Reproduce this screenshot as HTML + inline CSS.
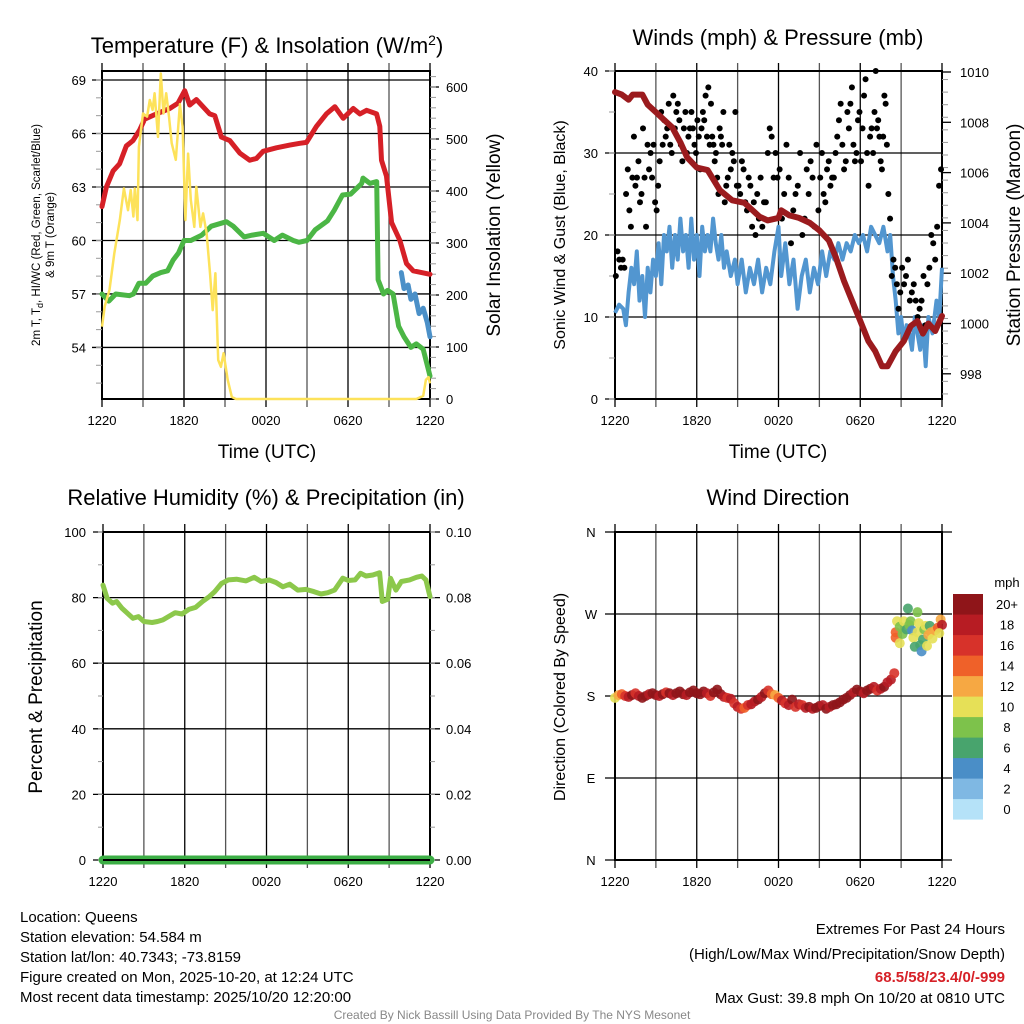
<!DOCTYPE html>
<html><head><meta charset="utf-8"><style>
html,body{margin:0;padding:0;background:#fff}
svg{display:block;font-family:"Liberation Sans",sans-serif}
</style></head><body>
<svg id="c" width="1024" height="1024" viewBox="0 0 1024 1024">
<g id="g"></g>
</svg>
<script>
// ---------- DATA ----------
const xTickLabels = ["1220","1820","0020","0620","1220"];
// Panel 1
const tempHours = [0,0.32,0.81,1.29,1.78,2.27,2.76,3.12,3.98,4.95,5.56,6.05,6.42,6.91,7.88,8.25,8.74,9.35,10.08,10.81,11.3,11.79,12.76,13.74,14.47,14.96,15.69,16.42,17.04,17.65,18.38,18.87,19.36,20.09,20.33,20.45,20.82,21.19,21.8,22.28,22.77,24];
const tempVals = [61.9,63.0,63.9,64.3,65.3,65.6,66.2,66.8,67.1,67.4,67.7,68.4,67.6,67.9,67.1,67.0,65.8,65.6,64.9,64.5,64.6,65.0,65.2,65.35,65.45,65.5,66.4,67.1,67.5,66.85,67.4,67.1,67.3,67.1,66.4,64.5,63.6,61.0,60.0,58.7,58.3,58.1];
const dewHours = [0,0.5,1,2,2.3,2.7,3.2,3.7,4.3,4.8,5.2,5.6,6.0,6.5,7.3,8.0,9.1,9.6,10.4,11.0,11.8,12.6,13.2,14.0,14.4,15.0,15.6,16.5,17.0,17.6,18.2,19.0,19.1,19.6,20.1,20.2,20.6,20.9,21.3,21.7,22.1,22.6,23.0,23.5,24];
const dewVals = [57.0,56.6,57.0,56.9,57.0,57.6,57.6,58.0,58.2,58.3,58.9,59.3,60.0,60.0,60.3,60.8,61.05,60.8,60.2,60.3,60.4,60.0,60.3,60.0,59.9,60.0,60.6,61.1,61.7,62.55,62.6,63.2,63.5,63.2,63.3,57.8,57.0,57.2,57.0,55.2,54.6,54.0,54.2,53.9,52.4];
const wcHours = [21.9,22.1,22.4,22.6,22.9,23.2,23.5,23.8,24];
const wcVals = [58.2,57.3,57.5,56.7,57.0,55.9,56.2,55.4,54.6];
const solarHours = [0,0.2,0.55,0.9,1.3,1.6,1.9,2.1,2.3,2.4,2.6,2.7,3.0,3.3,3.5,3.7,3.85,4.1,4.3,4.5,4.7,4.9,5.1,5.4,5.7,5.9,6.1,6.3,6.5,6.75,6.9,7.2,7.4,7.65,7.9,8.1,8.3,8.5,8.7,8.9,9.2,9.5,9.8,23.0,23.5,23.7,23.9,24];
const solarVals = [139,178,210,280,344,405,363,402,351,405,344,485,549,543,575,556,588,504,626,549,588,543,492,460,567,524,344,472,383,331,408,331,357,319,242,171,242,75,62,88,37,4,0,0,6,37,42,30];
// Panel 2
const presHours = [0,0.5,1.0,1.3,2.0,2.4,3.0,3.6,4.2,4.8,5.3,6.0,6.8,7.7,8.6,9.5,10.6,11.2,12.0,12.2,12.8,13.5,14.3,15.0,15.7,16.2,16.8,17.4,18.0,18.6,19.1,19.6,20.0,20.6,21.2,21.7,22.2,22.6,23.0,23.5,24];
const presVals = [1009.2,1009.1,1008.9,1009.1,1009.1,1008.7,1008.4,1008.1,1007.8,1007.2,1006.6,1006.2,1006.1,1005.3,1004.9,1004.8,1004.25,1004.1,1004.2,1004.5,1004.3,1004.2,1004.0,1003.7,1003.3,1002.65,1001.7,1000.9,1000.1,999.3,998.9,998.3,998.3,998.9,999.3,999.9,1000.1,999.6,1000.0,999.7,1000.3];
const windHours = [0,0.3,0.6,0.8,1.0,1.2,1.4,1.6,1.8,2.0,2.2,2.4,2.6,2.8,3.0,3.2,3.4,3.6,3.8,4.0,4.2,4.4,4.6,4.8,5.0,5.2,5.4,5.6,5.8,6.0,6.2,6.4,6.6,6.8,7.0,7.2,7.4,7.6,7.8,8.0,8.2,8.5,8.8,9.0,9.3,9.6,9.9,10.2,10.5,10.8,11.1,11.4,11.7,12.0,12.2,12.5,12.8,13.1,13.4,13.7,14.0,14.3,14.6,14.9,15.2,15.5,15.8,16.1,16.4,16.7,17.0,17.3,17.6,17.9,18.2,18.5,18.8,19.1,19.4,19.7,20.0,20.2,20.4,20.6,20.8,21.0,21.2,21.4,21.6,21.8,22.0,22.2,22.4,22.6,22.8,23.0,23.3,23.6,23.8,24];
const windVals = [10.5,11.5,11,9,13,16,14,18,12,15,10,16,13,17,15,19,14,20,18,21,16,20,17,22,18,20,16,22,17,20,15,21,18,20,18,22,19,17,20,16,18,15,17,14,17,13,16,14,17,13,16,14,18,21,15,19,14,17,11,15,17,13,16,14,18,15,18,17,19,17,19,18,20,19,20,18,21,20,19,21,18,20,15,12,8,10,7,9,8,6,10,8,6,9,4,10,8,12,10,16];
// gusts grouped by hour bin (0-1, 1-2, ... 23-24)
const gustByHour = [
 [15,18,17,16,17,16,25,28],[23,21,27,32,26,27,29,24,25],[33,27,21,31,28,30,27,31,24],[23,26,29,35,31,34,32,33,36],
 [31,30,37,33,35,36,34,31,29],[33,35,30,32,33,35,33,31,30],[34,32,28,33,35,34,37,32,38,31],[36,32,31,29,30,27,25,33,32,31,35],
 [24,26,27,31,28,30,29,35,26],[26,25,29,28,24,23,27,26],[21,24,20,25,22,27,21,24],[24,30,33,32,27,30,27],
 [28,22,25,31,27,19],[23,25,26,30,20,22],[28,25,29,27,21,31,23],[27,30,25,24,28,29,26,27],
 [27,30,32,34,36,31,28,29],[35,33,36,38,31,29,30,34,35],[29,33,37,39,30,26,32,33,30],[35,40,33,34,32,29,28,32,37,36,31],
 [25,22,15,17,16,14,11,13],[16,14,15,17,12,13,14],[12,10,11,12,15,9,14],[16,20,19,17,21,26,28]
];
// Panel 3
const rhHours = [0,0.3,0.7,1.0,1.4,1.8,2.2,2.6,3.0,3.6,4.0,4.4,4.8,5.3,5.8,6.3,6.8,7.3,7.8,8.2,8.7,9.2,9.8,10.5,11.1,11.6,12.2,12.7,13.2,13.7,14.3,14.9,15.5,16.0,16.5,17.0,17.6,18.0,18.5,18.9,19.3,19.8,20.3,20.5,20.9,21.1,21.5,21.9,22.5,23.0,23.4,23.7,24];
const rhVals = [83.8,79.8,78.3,78.8,76.7,75.2,73.7,74.2,72.7,72.4,72.7,73.2,74.2,75.4,75.0,76.4,77.0,78.8,80.3,81.8,84.3,85.4,85.6,85.1,86.2,84.9,85.4,84.6,83.3,84.1,82.3,82.5,81.8,81.1,81.5,82.3,85.9,85.2,85.4,87.4,86.6,86.9,87.6,78.8,79.5,85.9,82.3,84.9,85.4,86.2,86.6,85.4,80.3];
const precipHours = [0,24];
const precipVals = [0,0];
// Panel 4
const dirHours = [0,0.25,0.5,0.75,1,1.25,1.5,1.75,2,2.25,2.5,2.75,3,3.25,3.5,3.75,4,4.25,4.5,4.75,5,5.25,5.5,5.75,6,6.25,6.5,6.75,7,7.25,7.5,7.75,8,8.25,8.5,8.75,9,9.25,9.5,9.75,10,10.25,10.5,10.75,11,11.25,11.5,11.75,12,12.25,12.5,12.75,13,13.25,13.5,13.75,14,14.25,14.5,14.75,15,15.25,15.5,15.75,16,16.25,16.5,16.75,17,17.25,17.5,17.75,18,18.25,18.5,18.75,19,19.25,19.5,19.75,20,20.25,20.5,
 20.6,20.6,20.7,20.9,20.9,21.1,21.2,21.4,21.5,21.6,21.7,21.8,21.9,22.0,22.2,22.2,22.3,22.4,22.5,22.6,22.7,22.8,23.0,23.1,23.2,23.3,23.5,23.7,23.9,24,23.8,22.9];
const dirVals = [178,181,182,180,179,181,183,180,178,180,182,183,181,180,182,184,183,181,183,185,182,181,184,186,183,182,185,183,180,184,187,182,179,178,177,172,168,166,167,170,171,174,176,179,183,186,182,181,178,175,172,170,176,168,171,170,167,168,166,167,169,170,166,168,170,171,173,176,178,181,184,187,185,183,186,188,190,186,188,190,195,198,205,
 250,244,262,238,256,248,262,253,276,258,262,252,244,234,250,272,260,236,229,242,253,257,247,257,250,243,252,255,264,258,249,235];
const dirSpeeds = [10,12,14,16,18,20,16,18,20,20,18,20,22,18,20,16,20,18,20,22,20,18,20,22,20,20,22,18,16,20,22,20,18,16,18,16,18,16,14,16,18,18,20,18,20,16,14,12,14,18,16,18,20,16,18,16,18,20,18,22,20,18,20,18,20,20,22,20,22,20,18,20,22,18,20,22,18,16,18,20,18,18,16,
 14,14,10,10,8,8,10,6,6,8,8,4,10,6,10,8,10,6,4,6,8,10,12,6,12,10,12,14,12,18,10,10];
const cbLabels = ["0","2","4","6","8","10","12","14","16","18","20+"];
const cbColors = ["#b5e2f8","#7fb8e3","#4a8ec7","#48a46d","#7dc24b","#e6e057","#f6a843","#ef6129","#d7322a","#b71c23","#8f1519"];

// ---------- HELPERS ----------
const NS="http://www.w3.org/2000/svg";
const G=document.getElementById('g');
function el(tag,attrs,parent){const e=document.createElementNS(NS,tag);for(const k in attrs)e.setAttribute(k,attrs[k]);(parent||G).appendChild(e);return e;}
function txt(s,x,y,size,anchor,parent,extra){const t=el('text',Object.assign({x:x,y:y,'font-size':size,'text-anchor':anchor||'middle',fill:'#000'},extra||{}),parent);t.textContent=s;return t;}
function grp(name){const g=el('g',{});return g;}
function mkX(x0,x1){return h=>x0+h/24*(x1-x0);}
function linePath(hs,vs,fx,fy){return hs.map((h,i)=>(i?'L':'M')+fx(h).toFixed(1)+','+fy(vs[i]).toFixed(1)).join('');}
function frame(g,x0,x1,y0,y1){
  for(let k=0;k<=8;k++){const x=x0+k*(x1-x0)/8;el('line',{x1:x,x2:x,y1:y0-8,y2:y1+8,stroke:k%2?'#555':'#000','stroke-width':1.3},g);}
  el('rect',{x:x0,y:y0,width:x1-x0,height:y1-y0,fill:'none',stroke:'#000','stroke-width':2},g);
  xTickLabels.forEach((s,i)=>{const t=txt(s,x0+i*(x1-x0)/4,y1+26,13,'middle',g);});
}
function hgrid(g,x0,x1,y,tickL,tickR){el('line',{x1:x0-(tickL||0),x2:x1+(tickR||0),y1:y,y2:y,stroke:'#000','stroke-width':1.3},g);}

// ---------- PANEL 1 ----------
(function(){
  const g=grp('temperature-panel');
  const x0=102,x1=430,y0=71,y1=399; const fx=mkX(x0,x1);
  const ty=t=>80+(69-t)*17.83; const sy=w=>399-w*0.52;
  frame(g,x0,x1,y0,y1);
  [69,66,63,60,57,54].forEach(v=>{hgrid(g,x0,x1,ty(v),10,0);const t=txt(String(v),86,ty(v)+5,13,'end',g);});
  for(let v=52;v<=69;v++){el('line',{x1:x0-6,x2:x0,y1:ty(v),y2:ty(v),stroke:'#999','stroke-width':1},g);}
  [0,100,200,300,400,500,600].forEach(v=>{el('line',{x1:x1,x2:x1+9,y1:sy(v),y2:sy(v),stroke:'#000','stroke-width':1.3},g);const t=txt(String(v),446,sy(v)+5,13,'start',g);});
  for(let v=0;v<=620;v+=20){el('line',{x1:x1,x2:x1+6,y1:sy(v),y2:sy(v),stroke:'#999','stroke-width':1},g);}
  const pr=el('path',{d:linePath(tempHours,tempVals,fx,ty),fill:'none',stroke:'#d62027','stroke-width':5,'stroke-linejoin':'round','stroke-linecap':'round'},g);
  
  const pg=el('path',{d:linePath(dewHours,dewVals,fx,ty),fill:'none',stroke:'#4bb645','stroke-width':5,'stroke-linejoin':'round','stroke-linecap':'round'},g);
  
  const pb=el('path',{d:linePath(wcHours,wcVals,fx,ty),fill:'none',stroke:'#4b90c8','stroke-width':5,'stroke-linejoin':'round','stroke-linecap':'round'},g);
  
  const py=el('path',{d:linePath(solarHours,solarVals,fx,sy),fill:'none',stroke:'#fde25a','stroke-width':2.5,'stroke-linejoin':'round'},g);
  
  const t1=txt('',267,53,22,'middle',g);t1.innerHTML='Temperature (F) &amp; Insolation (W/m<tspan dy="-8" font-size="14">2</tspan><tspan dy="8">)</tspan>';
  
  const xt=txt('Time (UTC)',267,458,19,'middle',g);
  const ya=txt('',0,0,11.5,'middle',g,{transform:'translate(40,235) rotate(-90)'});
  ya.innerHTML='2m T, T<tspan dy="3" font-size="9">d</tspan><tspan dy="-3">, HI/WC (Red, Green, Scarlet/Blue)</tspan>';
  
  const yb=txt('& 9m T (Orange)',0,0,11.5,'middle',g,{transform:'translate(54,235) rotate(-90)'});
  
  const yr=txt('Solar Insolation (Yellow)',0,0,19,'middle',g,{transform:'translate(500,235) rotate(-90)'});
  
})();

// ---------- PANEL 2 ----------
(function(){
  const g=grp('winds-panel');
  const x0=615,x1=942,y0=71,y1=399; const fx=mkX(x0,x1);
  const wy=v=>399-v*8.2; const py=p=>72+(1010-p)*25.15;
  frame(g,x0,x1,y0,y1);
  [0,10,20,30,40].forEach(v=>{hgrid(g,x0,x1,wy(v),10,0);const t=txt(String(v),598,wy(v)+5,13,'end',g);});
  for(let v=0;v<=40;v+=5){el('line',{x1:x0-6,x2:x0,y1:wy(v),y2:wy(v),stroke:'#999','stroke-width':1},g);}
  [1010,1008,1006,1004,1002,1000,998].forEach(v=>{el('line',{x1:x1,x2:x1+9,y1:py(v),y2:py(v),stroke:'#000','stroke-width':1.3},g);const t=txt(String(v),960,py(v)+5,13,'start',g);});
  for(let v=997.2;v<=1010;v+=0.5){el('line',{x1:x1,x2:x1+6,y1:py(v),y2:py(v),stroke:'#999','stroke-width':1},g);}
  const pw=el('path',{d:linePath(windHours,windVals,fx,wy),fill:'none',stroke:'#5296d0','stroke-width':4,'stroke-linejoin':'round'},g);
  
  gustByHour.forEach((arr,hr)=>{arr.forEach((v,i)=>{const h=hr+(i+0.5)/arr.length;const c=el('circle',{cx:fx(h),cy:wy(v),r:3,fill:'#000'},g);});});
  const pp=el('path',{d:linePath(presHours,presVals,fx,py),fill:'none',stroke:'#9b1b1e','stroke-width':6,'stroke-linejoin':'round','stroke-linecap':'round'},g);
  
  const t1=txt('Winds (mph) & Pressure (mb)',778,45,22,'middle',g);
  const xt=txt('Time (UTC)',778,458,19,'middle',g);
  const yl=txt('Sonic Wind & Gust (Blue, Black)',0,0,16,'middle',g,{transform:'translate(565,235) rotate(-90)'});
  const yr=txt('Station Pressure (Maroon)',0,0,19,'middle',g,{transform:'translate(1020,235) rotate(-90)'});
})();

// ---------- PANEL 3 ----------
(function(){
  const g=grp('humidity-panel');
  const x0=103,x1=430,y0=532,y1=860; const fx=mkX(x0,x1);
  const ry=r=>860-r*3.28; const qy=p=>860-p*3280;
  frame(g,x0,x1,y0,y1);
  [0,20,40,60,80,100].forEach(v=>{hgrid(g,x0,x1,ry(v),10,10);const t=txt(String(v),86,ry(v)+5,13,'end',g);});
  for(let v=0;v<=100;v+=10){el('line',{x1:x0-5,x2:x0,y1:ry(v),y2:ry(v),stroke:'#999','stroke-width':1},g);el('line',{x1:x1,x2:x1+5,y1:ry(v),y2:ry(v),stroke:'#999','stroke-width':1},g);}
  ["0.00","0.02","0.04","0.06","0.08","0.10"].forEach((s,i)=>{const t=txt(s,446,qy(i*0.02)+5,13,'start',g);});
  const pr=el('path',{d:linePath(rhHours,rhVals,fx,ry),fill:'none',stroke:'#8cc84b','stroke-width':5,'stroke-linejoin':'round','stroke-linecap':'round'},g);
  
  const pq=el('path',{d:linePath(precipHours,precipVals,fx,qy),fill:'none',stroke:'#3cae45','stroke-width':9,'stroke-linecap':'round'},g);
  
  el('line',{x1:x0,x2:x1,y1:y1,y2:y1,stroke:'#000','stroke-width':2},g);
  const t1=txt('Relative Humidity (%) & Precipitation (in)',266,505,22,'middle',g);
  const yl=txt('Percent & Precipitation',0,0,19,'middle',g,{transform:'translate(42,697) rotate(-90)'});
})();

// ---------- PANEL 4 ----------
(function(){
  const g=grp('wind-direction-panel');
  const x0=615,x1=942,y0=532,y1=860; const fx=mkX(x0,x1);
  const dy=d=>860-d*(328/360);
  frame(g,x0,x1,y0,y1);
  ["N","E","S","W","N"].forEach((s,i)=>{hgrid(g,x0,x1,dy(i*90),10,10);const t=txt(s,591,dy(i*90)+5,13,'middle',g);});
  dirHours.forEach((h,i)=>{const idx=Math.min(10,Math.floor(dirSpeeds[i]/2));const c=el('circle',{cx:fx(h),cy:dy(dirVals[i]),r:5,fill:cbColors[idx],'fill-opacity':0.9},g);});
  const cb=grp('speed-colorbar');
  cbColors.forEach((c,i)=>{const yy=594+(10-i)*20.5;const r=el('rect',{x:953,y:yy,width:30,height:20.6,fill:c},cb);
    const t=txt(cbLabels[i],1007,yy+15,13,'middle',cb);});
  const mu=txt('mph',1007,587,13,'middle',cb);
  const t1=txt('Wind Direction',778,505,22,'middle',g);
  const yl=txt('Direction (Colored By Speed)',0,0,16,'middle',g,{transform:'translate(565,697) rotate(-90)'});
})();

// ---------- FOOTER ----------
(function(){
  const g=grp('footer');
  ["Location: Queens","Station elevation: 54.584 m","Station lat/lon: 40.7343; -73.8159","Figure created on Mon, 2025-10-20, at 12:24 UTC","Most recent data timestamp: 2025/10/20 12:20:00"].forEach((s,i)=>{const t=txt(s,20,922+i*20,15,'start',g);});
  const a=txt('Extremes For Past 24 Hours',1005,934,15,'end',g);
  const b=txt('(High/Low/Max Wind/Precipitation/Snow Depth)',1005,959,15,'end',g);
  const c=txt('68.5/58/23.4/0/-999',1005,982,15,'end',g,{fill:'#d62027','font-weight':'bold'});
  const d=txt('Max Gust: 39.8 mph On 10/20 at 0810 UTC',1005,1003,15,'end',g);
  const e=txt('Created By Nick Bassill Using Data Provided By The NYS Mesonet',512,1019,12,'middle',g,{fill:'#888'});
})();
</script>
</body></html>
